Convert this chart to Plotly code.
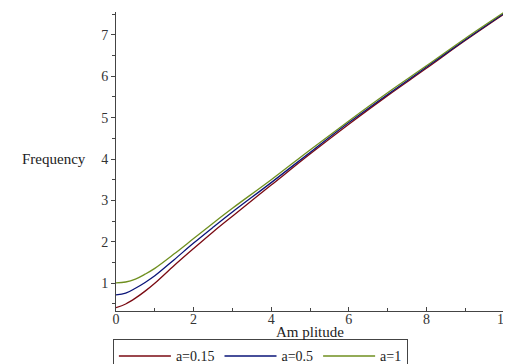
import plotly.graph_objects as go

amplitude = [0, 0.25, 0.5, 0.75, 1, 1.5, 2, 2.5, 3, 4, 5, 6, 7, 8, 9, 10]
freq_a015 = [0.41, 0.50, 0.64, 0.81, 1.00, 1.43, 1.84, 2.24, 2.62, 3.37, 4.12, 4.84, 5.53, 6.19, 6.86, 7.50]
freq_a05 = [0.72, 0.76, 0.88, 1.02, 1.18, 1.57, 1.97, 2.35, 2.72, 3.43, 4.16, 4.88, 5.56, 6.22, 6.88, 7.52]
freq_a1 = [1.01, 1.03, 1.10, 1.22, 1.36, 1.71, 2.08, 2.45, 2.81, 3.50, 4.22, 4.92, 5.60, 6.25, 6.91, 7.54]
series_names = ["a=0.15", "a=0.5", "a=1"]
colors = ["#7a0a12", "#0a1478", "#6f8f1f"]

FONT = "Liberation Serif, Times New Roman, serif"

fig = go.Figure()
for name, ys, c in zip(series_names, [freq_a015, freq_a05, freq_a1], colors):
    fig.add_trace(go.Scatter(x=amplitude, y=ys, mode="lines", name=name,
                             line=dict(color=c, width=1.3, shape="spline", smoothing=1.0)))

# page body has an 8px margin, so the figure is offset by (8, 8)
fig.update_layout(
    width=503, height=356,
    margin=dict(l=108, r=7, t=4, b=53, autoexpand=False),
    paper_bgcolor="white", plot_bgcolor="white",
    font=dict(family=FONT, size=14, color="#333333"),
    showlegend=True,
    legend=dict(orientation="h", x=-0.008, xanchor="left", y=-0.095, yanchor="top",
                bordercolor="#444444", borderwidth=1, font=dict(family=FONT, size=14, color="#222222"),
                tracegroupgap=0, itemwidth=52),
    xaxis=dict(range=[0, 10], showgrid=False, zeroline=False, showline=True, linecolor="#444444",
               linewidth=1, ticks="inside", ticklen=4, tickcolor="#444444", automargin=False,
               tickvals=[0, 2, 4, 6, 8, 10], ticktext=["0", "2", "4", "6", "8", "10"],
               ticklabelstandoff=-5,
               minor=dict(tickvals=[1, 3, 5, 7, 9], ticks="inside", ticklen=3, tickcolor="#444444"),
               title=dict(text="Am plitude", standoff=0, font=dict(family=FONT, size=15, color="#222222"))),
    yaxis=dict(range=[0.33, 7.55], showgrid=False, zeroline=False, showline=True, linecolor="#444444",
               linewidth=1, ticks="outside", ticklen=4, tickcolor="#444444", automargin=False,
               tickvals=[1, 2, 3, 4, 5, 6, 7],
               minor=dict(tickvals=[0.5, 1.5, 2.5, 3.5, 4.5, 5.5, 6.5, 7.5], ticks="outside", ticklen=3,
                          tickcolor="#444444")),
    annotations=[dict(text="Frequency", xref="paper", yref="y", x=-0.072, y=4, xanchor="right",
                      yanchor="middle", showarrow=False,
                      font=dict(family=FONT, size=15, color="#222222"))],
)

fig.write_html("out.html")
